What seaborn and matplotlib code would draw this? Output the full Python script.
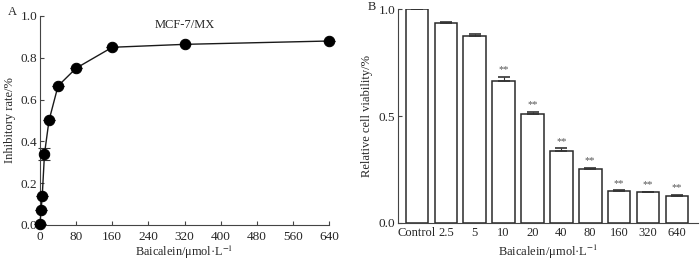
import numpy as np
import pandas as pd
import matplotlib
matplotlib.use("Agg")
import matplotlib.pyplot as plt
import seaborn as sns

# data
conc = [0, 2.5, 5, 10, 20, 40, 80, 160, 320, 640]
inhibit = [0.005, 0.072, 0.138, 0.340, 0.500, 0.665, 0.750, 0.850, 0.864, 0.880]
inhibit_err = [0, 0, 0, 0.030, 0, 0, 0, 0, 0, 0]

groups = ["Control", "2.5", "5", "10", "20", "40", "80", "160", "320", "640"]
viability = [1.0, 0.935, 0.875, 0.665, 0.510, 0.338, 0.252, 0.150, 0.144, 0.128]
viability_err = [0, 0.004, 0.010, 0.020, 0.011, 0.011, 0.005, 0.003, 0.003, 0.003]
signif = ["", "", "", "**", "**", "**", "**", "**", "**", "**"]

sns.set_style("ticks")
plt.rcParams["font.family"] = ["Liberation Serif", "DejaVu Serif"]
plt.rcParams["mathtext.fontset"] = "stix"
plt.rcParams["font.size"] = 8
plt.rcParams["xtick.direction"] = "in"
plt.rcParams["ytick.direction"] = "in"

fig = plt.figure(figsize=(7, 2.61), dpi=100)

# Panel A
ax1 = fig.add_axes([0.0571, 0.138, 0.413, 0.801])
df1 = pd.DataFrame({"conc": conc, "inhibit": inhibit})
sns.lineplot(data=df1, x="conc", y="inhibit", ax=ax1, color="#1a1a1a", lw=1,
             marker="o", markersize=7.5, markerfacecolor="black",
             markeredgecolor="black", clip_on=False, zorder=3)
ax1.errorbar(conc, inhibit, yerr=inhibit_err, fmt="none", ecolor="#333333",
             elinewidth=0.8, capsize=4.5, capthick=0.8, clip_on=False)
ax1.set_xlim(0, 640)
ax1.set_ylim(0, 1.0)
ax1.set_xticks(np.arange(0, 641, 80))
ax1.set_yticks([0.0, 0.2, 0.4, 0.6, 0.8, 1.0])
ax1.set_yticklabels(["0.0", "0.2", "0.4", "0.6", "0.8", "1.0"])
ax1.tick_params(length=3, width=0.8, labelsize=9.5, color="#444444")
ax1.tick_params(axis="x", pad=4)
ax1.tick_params(axis="y", pad=2)
sns.despine(ax=ax1)
for s in ["left", "bottom"]:
    ax1.spines[s].set_linewidth(0.8)
    ax1.spines[s].set_color("#444444")
ax1.set_xlabel("Baicalein/μmol·L$^{-1}$", fontsize=8.8, labelpad=0.5)
ax1.set_ylabel("Inhibitory rate/%", fontsize=9, labelpad=3)
ax1.text(0.5, 0.985, "MCF-7/MX", transform=ax1.transAxes, ha="center",
         va="top", fontsize=9)
fig.text(0.018, 0.955, "A", fontsize=9, ha="center", va="center")

# Panel B
ax2 = fig.add_axes([0.5686, 0.1456, 0.4284, 0.8184])
df2 = pd.DataFrame({"group": groups, "viability": viability})
sns.barplot(data=df2, x="group", y="viability", ax=ax2, color="white",
            edgecolor="#2a2a2a", linewidth=1.1, width=0.785, errorbar=None)
xs = np.arange(len(groups))
ax2.errorbar(xs, viability, yerr=[np.zeros(len(groups)), viability_err],
             fmt="none", ecolor="#333333", elinewidth=0.8, capsize=4,
             capthick=1.2)
for x, v, e, s in zip(xs, viability, viability_err, signif):
    if s:
        ax2.text(x, v + e + 0.012, s, ha="center", va="bottom", fontsize=7.5,
                 color="#555555")
ax2.set_xlim(-0.66, 9.73)
ax2.set_ylim(0, 1.0)
ax2.set_yticks([0.0, 0.5, 1.0])
ax2.set_yticklabels(["0.0", "0.5", "1.0"])
ax2.tick_params(axis="y", length=3, width=0.8, pad=2, labelsize=9.5,
                color="#444444")
ax2.tick_params(axis="x", length=0, pad=3, labelsize=9)
sns.despine(ax=ax2)
for s in ["left", "bottom"]:
    ax2.spines[s].set_linewidth(0.8)
    ax2.spines[s].set_color("#444444")
ax2.set_xlabel("Baicalein/μmol·L$^{-1}$", fontsize=9, labelpad=2.5)
ax2.set_ylabel("Relative cell viability/%", fontsize=9, labelpad=4)
fig.text(0.531, 0.972, "B", fontsize=9, ha="center", va="center")

fig.savefig("out.png", dpi=100)
